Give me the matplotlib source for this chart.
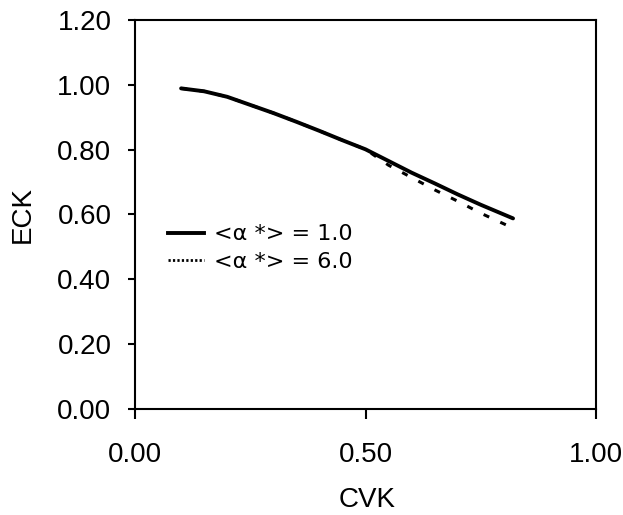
import numpy as np
import matplotlib
matplotlib.use('Agg')
import matplotlib.pyplot as plt
from matplotlib.lines import Line2D

# CVK vs ECK for two values of <alpha*>
cvk = [0.10, 0.15, 0.20, 0.25, 0.30, 0.35, 0.40, 0.45, 0.50,
       0.55, 0.60, 0.65, 0.70, 0.75, 0.82]
eck_a1 = [0.989, 0.980, 0.963, 0.938, 0.913, 0.886, 0.858, 0.829, 0.801,
          0.765, 0.729, 0.696, 0.662, 0.630, 0.588]
eck_a6 = [0.989, 0.980, 0.963, 0.938, 0.913, 0.886, 0.858, 0.829, 0.801,
          0.752, 0.714, 0.676, 0.641, 0.604, 0.558]
labels = ['<α *> = 1.0', '<α *> = 6.0']

plt.rcParams['font.family'] = ['Liberation Sans', 'DejaVu Sans']

fig = plt.figure(figsize=(6.23, 5.15), dpi=100)
ax = fig.add_axes([0.2167, 0.2058, 0.74, 0.7554])

ax.plot(cvk, eck_a6, color='black', lw=2.2, linestyle=(0, (2, 4)),
        dash_capstyle='butt', zorder=2)
ax.plot(cvk, eck_a1, color='black', lw=2.8, solid_capstyle='round', zorder=3)

ax.set_xlim(0, 1.0)
ax.set_ylim(0, 1.2)
ax.set_xticks([0, 0.5, 1.0])
ax.set_yticks(np.arange(0, 1.21, 0.2))
ax.xaxis.set_major_formatter(matplotlib.ticker.FormatStrFormatter('%.2f'))
ax.yaxis.set_major_formatter(matplotlib.ticker.FormatStrFormatter('%.2f'))
ax.tick_params(axis='x', direction='out', length=7, width=1.5, pad=16.5,
               labelsize=20, top=False)
ax.tick_params(axis='y', direction='out', length=5, width=1.5, pad=12,
               labelsize=20, right=False)
for sp in ax.spines.values():
    sp.set_linewidth(1.5)
    sp.set_color('black')

ax.set_xlabel('CVK', fontsize=20)
ax.set_ylabel('ECK', fontsize=20)
ax.xaxis.label.set_va('center')
ax.yaxis.label.set_va('center')
ax.xaxis.set_label_coords(0.503, -0.235)
ax.yaxis.set_label_coords(-0.243, 0.499)

handles = [Line2D([], [], color='black', lw=2.8),
           Line2D([], [], color='black', lw=2.0, linestyle=(0, (0.8, 0.8)))]
ax.legend(handles, labels, loc='center left', bbox_to_anchor=(0.072, 0.413),
          frameon=False, borderpad=0, borderaxespad=0, handlelength=1.6,
          handletextpad=0.45, labelspacing=0.35,
          prop={'family': 'DejaVu Sans', 'size': 16})

fig.savefig('out.png', dpi=100)
